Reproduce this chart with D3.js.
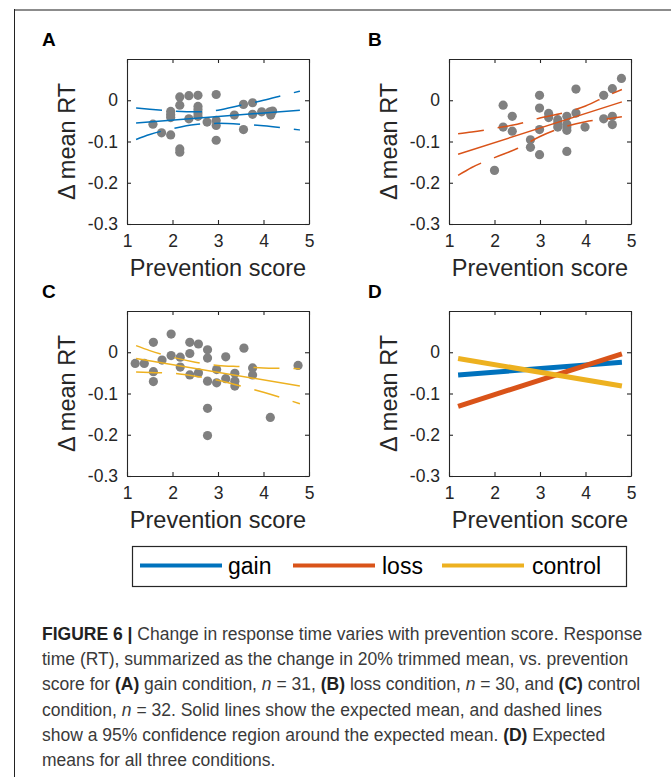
<!DOCTYPE html>
<html>
<head>
<meta charset="utf-8">
<title>Figure 6</title>
<script src="https://cdn.jsdelivr.net/npm/d3@7"></script>
<style>
  * { margin:0; padding:0; }
  body { background:#fff; width:671px; height:777px; overflow:hidden; }
  svg { display:block; font-family:"Liberation Sans", Arial, Helvetica, sans-serif; }
</style>
</head>
<body>
<svg id="fig" width="671" height="777"></svg>
<script>
// ---- data ----
var xTicks = [1, 2, 3, 4, 5];
var yTicks = [-0.3, -0.2, -0.1, 0];
var fitX = [1.2, 4.8];
var bandX = [1.2, 1.5, 2.0, 2.5, 3.0, 3.5, 4.0, 4.5, 4.8];

var gainX = [1.57,1.76,1.96,1.96,1.96,1.96,2.16,2.16,2.16,2.16,2.36,2.36,2.56,2.56,2.56,2.56,2.56,2.76,2.96,2.96,2.96,2.96,3.36,3.56,3.56,3.76,3.76,3.96,4.14,4.16,4.2];
var gainY = [-0.058,-0.079,-0.084,-0.027,-0.035,-0.042,0.008,-0.012,-0.118,-0.126,0.011,-0.045,0.012,-0.015,-0.023,-0.031,-0.039,-0.053,0.014,-0.049,-0.061,-0.097,-0.036,-0.010,-0.071,-0.006,-0.034,-0.028,-0.028,-0.036,-0.026];
var gainFit = [-0.055, -0.024];
var gainUpper = [-0.019,-0.022,-0.026,-0.028,-0.024,-0.012,0.000,0.014,0.022];
var gainLower = [-0.095,-0.083,-0.069,-0.059,-0.056,-0.058,-0.062,-0.068,-0.072];

var lossX = [2.0,2.19,2.19,2.39,2.39,2.79,2.79,2.99,2.99,2.99,2.99,3.19,3.19,3.39,3.39,3.39,3.59,3.59,3.59,3.59,3.59,3.79,3.79,3.99,4.4,4.4,4.59,4.59,4.59,4.79];
var lossY = [-0.170,-0.012,-0.065,-0.039,-0.075,-0.096,-0.114,0.012,-0.019,-0.071,-0.132,-0.032,-0.042,-0.047,-0.055,-0.065,-0.039,-0.058,-0.065,-0.073,-0.124,0.027,-0.031,-0.065,0.012,-0.045,0.028,-0.039,-0.059,0.053];
var lossFit = [-0.131, -0.004];
var lossUpper = [-0.081,-0.077,-0.068,-0.058,-0.043,-0.031,-0.014,0.012,0.026];
var lossLower = [-0.182,-0.163,-0.139,-0.117,-0.088,-0.066,-0.052,-0.045,-0.040];

var controlX = [1.18,1.38,1.58,1.58,1.58,1.77,1.97,1.97,2.17,2.17,2.38,2.38,2.38,2.57,2.57,2.77,2.77,2.77,2.77,2.77,2.97,2.97,3.17,3.17,3.37,3.37,3.37,3.57,3.76,3.76,4.15,4.76];
var controlY = [-0.027,-0.027,0.024,-0.047,-0.071,-0.019,0.044,-0.008,-0.012,-0.036,0.024,-0.003,-0.055,0.020,-0.050,0.006,-0.014,-0.070,-0.136,-0.202,-0.042,-0.074,-0.011,-0.064,-0.051,-0.070,-0.082,0.010,-0.038,-0.055,-0.158,-0.032];
var controlFit = [-0.015, -0.082];
var controlUpper = [0.016,0.004,-0.012,-0.024,-0.032,-0.035,-0.038,-0.039,-0.040];
var controlLower = [-0.048,-0.049,-0.051,-0.058,-0.068,-0.082,-0.097,-0.114,-0.125];

var conditions = ["gain", "loss", "control"];
var colors = {gain:"#0072BD", loss:"#D95319", control:"#EDB120"};

var svg = d3.select("#fig");

// frame of the figure page
svg.append("line").attr("x1",14).attr("x2",671).attr("y1",10).attr("y2",10)
  .attr("stroke","#8c8c8c").attr("stroke-width",2);
svg.append("line").attr("x1",14.5).attr("x2",14.5).attr("y1",9).attr("y2",777)
  .attr("stroke","#222").attr("stroke-width",1);

var W = 182, H = 165;

function drawPanel(letter, left, top, lx, ly, opts){
  var g = svg.append("g").attr("transform","translate("+left+","+top+")");
  var x = d3.scaleLinear().domain([1,5]).range([0,W]);
  var y = d3.scaleLinear().domain([-0.3,0.1]).range([H,0]);

  // panel letter
  svg.append("text").attr("x", lx).attr("y", ly)
    .attr("font-size",19).attr("font-weight","bold").attr("fill","#000").text(letter);

  // plain hyphen for negatives, like the original
  var fmtY = function(d){ return d === 0 ? "0" : "-" + Math.abs(d).toFixed(1); };
  var fmtX = function(d){ return String(d); };
  var ax = function(a){
    a.select(".domain").attr("stroke","#262626").attr("stroke-width",1.1);
    a.selectAll(".tick line").attr("stroke","#262626").attr("stroke-width",1.1);
    a.selectAll("text").attr("fill","#262626").attr("font-size",17.5)
      .attr("font-family",'"Liberation Sans", Arial, sans-serif');
  };
  g.append("g").attr("transform","translate(0,"+H+")")
    .call(d3.axisBottom(x).tickValues(xTicks).tickSize(-4).tickSizeOuter(0).tickPadding(11).tickFormat(fmtX))
    .call(ax);
  g.append("g").call(d3.axisTop(x).tickValues(xTicks).tickSize(-4).tickSizeOuter(0).tickFormat(""))
    .call(ax);
  g.append("g")
    .call(d3.axisLeft(y).tickValues(yTicks).tickSize(-4).tickSizeOuter(0).tickPadding(9).tickFormat(fmtY))
    .call(ax);
  g.append("g").attr("transform","translate("+W+",0)")
    .call(d3.axisRight(y).tickValues(yTicks).tickSize(-4).tickSizeOuter(0).tickFormat(""))
    .call(ax);

  // axis titles
  g.append("text").attr("x", W/2).attr("y", H+52).attr("text-anchor","middle")
    .attr("font-size",23.5).attr("fill","#262626").text("Prevention score");
  g.append("text").attr("transform","translate(-52,"+(H/2)+") rotate(-90)")
    .attr("text-anchor","middle").attr("font-size",23.5).attr("fill","#262626").text("\u0394 mean RT");

  var line = d3.line().x(function(d){ return x(d[0]); }).y(function(d){ return y(d[1]); });
  var curve = d3.line().curve(d3.curveMonotoneX)
    .x(function(d){ return x(d[0]); }).y(function(d){ return y(d[1]); });

  if (opts.px) {
    g.selectAll("circle.pt").data(d3.zip(opts.px, opts.py)).join("circle")
      .attr("class","pt").attr("cx", function(d){ return x(d[0]); })
      .attr("cy", function(d){ return y(d[1]); })
      .attr("r",4.6).attr("fill","#808080");
    [opts.upper, opts.lower].forEach(function(b){
      g.append("path").datum(d3.zip(bandX, b)).attr("d", curve)
        .attr("fill","none").attr("stroke", opts.color).attr("stroke-width",1.5)
        .attr("stroke-dasharray","26,14");
    });
    g.append("path").datum(d3.zip(fitX, opts.fit)).attr("d", line)
      .attr("fill","none").attr("stroke", opts.color).attr("stroke-width",1.5);
  }
  if (opts.fits) {
    opts.fits.forEach(function(f){
      g.append("path").datum(d3.zip(fitX, f.values)).attr("d", line)
        .attr("fill","none").attr("stroke", colors[f.name]).attr("stroke-width",5);
    });
  }
}

drawPanel("A", 127, 59, 42, 46, {px:gainX, py:gainY, fit:gainFit, upper:gainUpper, lower:gainLower, color:colors.gain});
drawPanel("B", 449, 59, 368, 46, {px:lossX, py:lossY, fit:lossFit, upper:lossUpper, lower:lossLower, color:colors.loss});
drawPanel("C", 127, 311, 42, 298, {px:controlX, py:controlY, fit:controlFit, upper:controlUpper, lower:controlLower, color:colors.control});
drawPanel("D", 449, 311, 368, 298, {fits:[{name:"gain", values:gainFit},{name:"loss", values:lossFit},{name:"control", values:controlFit}]});

// legend
var leg = svg.append("g");
leg.append("rect").attr("x",132.5).attr("y",546.5).attr("width",494).attr("height",40)
  .attr("fill","#fff").attr("stroke","#262626").attr("stroke-width",1.2);
var legPos = [{x:140, tx:228}, {x:293, tx:382}, {x:442, tx:532}];
conditions.forEach(function(c, i){
  leg.append("line").attr("x1", legPos[i].x).attr("x2", legPos[i].x+82)
    .attr("y1",565.5).attr("y2",565.5).attr("stroke", colors[c]).attr("stroke-width",4);
  leg.append("text").attr("x", legPos[i].tx).attr("y",574).attr("font-size",23)
    .attr("fill","#000").text(c);
});

// caption
var caption = [
  [["b","FIGURE 6 | "],["","Change in response time varies with prevention score. Response"]],
  [["","time (RT), summarized as the change in 20% trimmed mean, vs. prevention"]],
  [["","score for "],["b","(A)"],[""," gain condition, "],["i","n"],[""," = 31, "],["b","(B)"],[""," loss condition, "],["i","n"],[""," = 30, and "],["b","(C)"],[""," control"]],
  [["","condition, "],["i","n"],[""," = 32. Solid lines show the expected mean, and dashed lines"]],
  [["","show a 95% confidence region around the expected mean. "],["b","(D)"],[""," Expected"]],
  [["","means for all three conditions."]]
];
var cap = svg.append("text").attr("font-size",17.5).attr("fill","#3a3a3a")
  .attr("font-family",'"Liberation Sans", Arial, sans-serif');
caption.forEach(function(row, i){
  row.forEach(function(seg, j){
    var t = cap.append("tspan").text(seg[1]);
    if (j === 0) t.attr("x",42).attr("y",640 + i*25.2);
    if (seg[0] === "b") t.attr("font-weight","bold").attr("fill","#222");
    if (seg[0] === "i") t.attr("font-style","italic");
  });
});
</script>
</body>
</html>
